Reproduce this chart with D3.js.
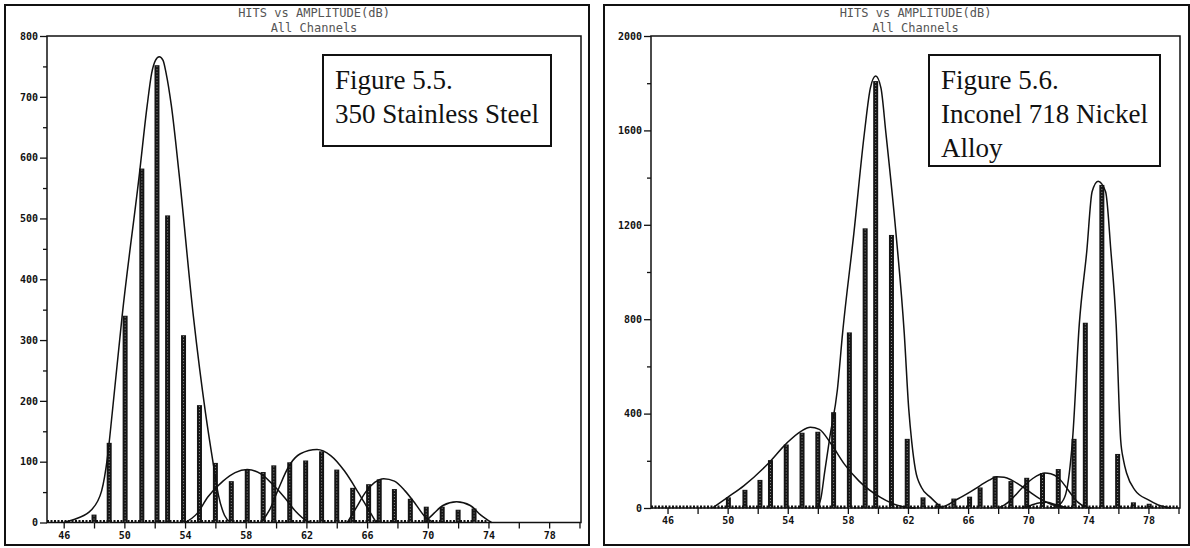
<!DOCTYPE html>
<html>
<head>
<meta charset="utf-8">
<script src="https://cdn.jsdelivr.net/npm/d3@7"></script>
<style>
body { margin: 0; background: #fff; }
.tick text { font-family: "DejaVu Sans Mono", monospace; font-size: 10px; font-weight: bold; fill: #111; }
.tick line { stroke: #111; stroke-width: 1.3px; }
.title { font-family: "DejaVu Sans Mono", monospace; font-size: 12px; fill: #555; }
.caption { font-family: "Liberation Serif", "Times New Roman", serif; font-size: 27px; fill: #111; }
</style>
</head>
<body>
<svg id="chart" width="1190" height="548"></svg>
<script>
// amplitude channels (dB) shared by both histograms
var amps = [48.0, 49.0, 50.05, 51.15, 52.15, 52.85, 53.9, 54.95, 56.0, 57.05,
            58.1, 59.15, 59.85, 60.9, 61.95, 63.0, 64.0, 65.05, 66.1, 66.8,
            67.8, 68.85, 69.9, 70.95, 72.0, 73.05, 73.8, 74.9, 75.95, 77.0,
            78.05, 79.05];

var steelHits = [13, 131, 340, 582, 752, 505, 308, 193, 98, 68,
                 87, 83, 94, 99, 102, 117, 87, 57, 63, 71,
                 55, 39, 26, 26, 21, 23, 0, 0, 0, 0,
                 0, 0];

var inconelHits = [0, 0, 45, 77, 119, 203, 269, 319, 323, 406,
                   744, 1185, 1809, 1157, 293, 45, 18, 40, 48, 87,
                   134, 114, 128, 148, 165, 293, 785, 1369, 229, 24,
                   18, 8];

// fitted peaks as [dB, hits]
var steelFitMain = [[46.0,0],[46.9,7],[47.8,20],[48.5,52],[48.9,110],[49.2,180],[49.85,339],[51.0,575],[51.5,685],[51.8,739],[52.05,760],[52.3,766],[52.55,760],[52.75,739],[53.1,685],[53.6,575],[54.55,339],[55.35,180],[55.85,98],[56.2,45],[56.6,12],[57.0,0]];
var steelFit58 = [[54.0,0],[54.8,15],[55.5,42],[56.5,68],[57.3,82],[58.1,87],[59.0,80],[59.8,62],[60.6,40],[61.3,18],[62.0,3],[62.3,0]];
var steelFit63 = [[59.0,0],[59.6,22],[60.1,52],[60.9,95],[61.6,113],[62.7,120],[63.6,110],[64.5,85],[65.4,50],[66.0,25],[66.6,0]];
var steelFit67 = [[64.7,0],[65.3,25],[65.9,50],[66.5,66],[67.1,72],[67.8,68],[68.5,52],[69.2,30],[69.8,10],[70.4,0]];
var steelFit72 = [[69.8,0],[70.4,15],[71.0,28],[71.9,34],[72.8,28],[73.5,12],[74.2,0]];

var incFit55 = [[49.0,0],[50.0,45],[51.07,94],[52.75,192],[53.95,276],[54.9,326],[55.5,342],[56.1,333],[56.9,270],[57.78,185],[58.73,115],[60.17,45],[61.6,6],[62.5,0]];
var incFit60 = [[55.9,0],[56.2,40],[56.45,150],[56.8,300],[57.3,500],[57.65,742],[58.4,1165],[59.1,1589],[59.5,1780],[59.85,1830],[60.2,1780],[60.53,1589],[61.2,1165],[61.75,742],[62.05,420],[62.25,280],[62.5,160],[62.9,87],[63.5,45],[64.0,15],[64.3,0]];
var incFit68 = [[64.0,0],[64.6,12],[65.1,31],[65.6,48],[66.2,70],[66.8,95],[67.4,118],[67.9,132],[68.4,130],[68.9,118],[69.5,95],[70.1,68],[70.7,42],[71.3,22],[71.9,8],[72.6,0]];
var incFit71 = [[68.0,0],[68.4,12],[68.8,31],[69.3,65],[69.75,95],[70.3,125],[70.8,143],[71.1,148],[71.5,145],[72.0,128],[72.5,90],[72.9,55],[73.3,25],[73.8,5],[74.2,0]];
var incFitLow = [[69.6,0],[70.2,12],[70.8,22],[71.2,24],[71.8,15],[72.4,4],[72.9,0]];
var incFit75 = [[71.6,0],[72.1,15],[72.5,60],[72.95,290],[73.4,780],[73.9,1090],[74.25,1340],[74.65,1385],[75.15,1340],[75.5,1090],[75.85,780],[76.15,290],[76.35,200],[76.55,147],[77.1,76],[78.0,34],[78.65,13],[79.5,0]];

// tick values
var xLabelTicks = [46, 50, 54, 58, 62, 66, 70, 74, 78];
var xMinorTicks = [48, 52, 56, 60, 64, 68, 72, 76, 80];
var steelYTicks = [0, 100, 200, 300, 400, 500, 600, 700, 800];
var steelYMinor = [50, 150, 250, 350, 450, 550, 650, 750];
var incYTicks = [0, 400, 800, 1200, 1600, 2000];
var incYMinor = [200, 600, 1000, 1400, 1800];

var titleLines = ["HITS vs AMPLITUDE(dB)", "All Channels"];

var panels = [
    {
        frame: [5, 5, 589, 545],
        plot: {left: 47, right: 581, top: 36, bottom: 522.5},
        yMax: 800, yTicks: steelYTicks, yMinor: steelYMinor,
        hits: steelHits,
        fits: [steelFitMain, steelFit58, steelFit63, steelFit67, steelFit72],
        caption: ["Figure 5.5.", "350 Stainless Steel"],
        box: [323, 55, 551, 146]
    },
    {
        frame: [604, 5, 1189, 545],
        plot: {left: 651, right: 1180, top: 36, bottom: 508},
        yMax: 2000, yTicks: incYTicks, yMinor: incYMinor,
        hits: inconelHits,
        fits: [incFit55, incFit60, incFit68, incFit71, incFitLow, incFit75],
        caption: ["Figure 5.6.", "Inconel 718 Nickel", "Alloy"],
        box: [929, 55, 1160, 166]
    }
];

var svg = d3.select("#chart");

panels.forEach(function(p) {
    var g = svg.append("g");

    var x = d3.scaleLinear()
        .domain([44.9, 80.1])
        .range([p.plot.left, p.plot.right]);
    var y = d3.scaleLinear()
        .domain([0, p.yMax])
        .range([p.plot.bottom, p.plot.top]);

    /* outer frame */
    g.append("rect")
        .attr("x", p.frame[0]).attr("y", p.frame[1])
        .attr("width", p.frame[2] - p.frame[0])
        .attr("height", p.frame[3] - p.frame[1])
        .attr("fill", "none")
        .attr("stroke", "#111")
        .attr("stroke-width", 2);

    /* titles */
    var cx = (p.plot.left + p.plot.right) / 2;
    g.append("text").attr("class", "title")
        .attr("x", cx).attr("y", 17).attr("text-anchor", "middle")
        .text(titleLines[0]);
    g.append("text").attr("class", "title")
        .attr("x", cx).attr("y", 32).attr("text-anchor", "middle")
        .text(titleLines[1]);

    /* axes */
    g.append("g")
        .attr("transform", `translate(0, ${p.plot.bottom})`)
        .call(d3.axisBottom(x).tickValues(xLabelTicks).tickSize(6).tickPadding(3).tickFormat(d3.format("d")))
        .call(a => a.select(".domain").remove());
    g.append("g")
        .attr("transform", `translate(0, ${p.plot.bottom})`)
        .call(d3.axisBottom(x).tickValues(xMinorTicks).tickSize(6).tickFormat(""))
        .call(a => a.select(".domain").remove());
    g.append("g")
        .attr("transform", `translate(${p.plot.left}, 0)`)
        .call(d3.axisLeft(y).tickValues(p.yTicks).tickSize(7).tickPadding(2).tickFormat(d3.format("d")))
        .call(a => a.select(".domain").remove());
    g.append("g")
        .attr("transform", `translate(${p.plot.left}, 0)`)
        .call(d3.axisLeft(y).tickValues(p.yMinor).tickSize(4).tickFormat(""))
        .call(a => a.select(".domain").remove());

    /* plot frame */
    g.append("rect")
        .attr("x", p.plot.left).attr("y", p.plot.top)
        .attr("width", p.plot.right - p.plot.left)
        .attr("height", p.plot.bottom - p.plot.top)
        .attr("fill", "none")
        .attr("stroke", "#111")
        .attr("stroke-width", 1.5);

    /* dotted zero row */
    var lastHit = d3.max(amps.filter((a, i) => p.hits[i] > 0));
    g.append("line")
        .attr("x1", x(x.domain()[0])).attr("x2", x(lastHit + 0.9))
        .attr("y1", y(0) - 1).attr("y2", y(0) - 1)
        .attr("stroke", "#111")
        .attr("stroke-width", 3)
        .attr("stroke-dasharray", "2,1.5");

    /* bars */
    var bars = amps.map((a, i) => ({amp: a, hits: p.hits[i]})).filter(d => d.hits > 0);
    g.selectAll(".bar")
        .data(bars).enter()
        .append("rect")
        .attr("class", "bar")
        .attr("x", d => x(d.amp) - 2.5)
        .attr("y", d => y(d.hits))
        .attr("width", 5)
        .attr("height", d => y(0) - y(d.hits))
        .attr("fill", "#151515");
    g.selectAll(".speck")
        .data(bars).enter()
        .append("line")
        .attr("x1", d => x(d.amp)).attr("x2", d => x(d.amp))
        .attr("y1", d => y(d.hits) + 1).attr("y2", y(0))
        .attr("stroke", "#999")
        .attr("stroke-width", 1)
        .attr("stroke-dasharray", "1,2");

    /* fitted curves */
    var line = d3.line()
        .x(d => x(d[0]))
        .y(d => y(d[1]))
        .curve(d3.curveMonotoneX);
    g.selectAll(".fit")
        .data(p.fits).enter()
        .append("path")
        .attr("class", "fit")
        .attr("d", line)
        .attr("fill", "none")
        .attr("stroke", "#111")
        .attr("stroke-width", 1.5);

    /* caption box */
    g.append("rect")
        .attr("x", p.box[0]).attr("y", p.box[1])
        .attr("width", p.box[2] - p.box[0])
        .attr("height", p.box[3] - p.box[1])
        .attr("fill", "#fff")
        .attr("stroke", "#111")
        .attr("stroke-width", 2);
    p.caption.forEach(function(t, i) {
        g.append("text").attr("class", "caption")
            .attr("x", p.box[0] + 12)
            .attr("y", p.box[1] + 34 + i * 34)
            .text(t);
    });
});
</script>
</body>
</html>
